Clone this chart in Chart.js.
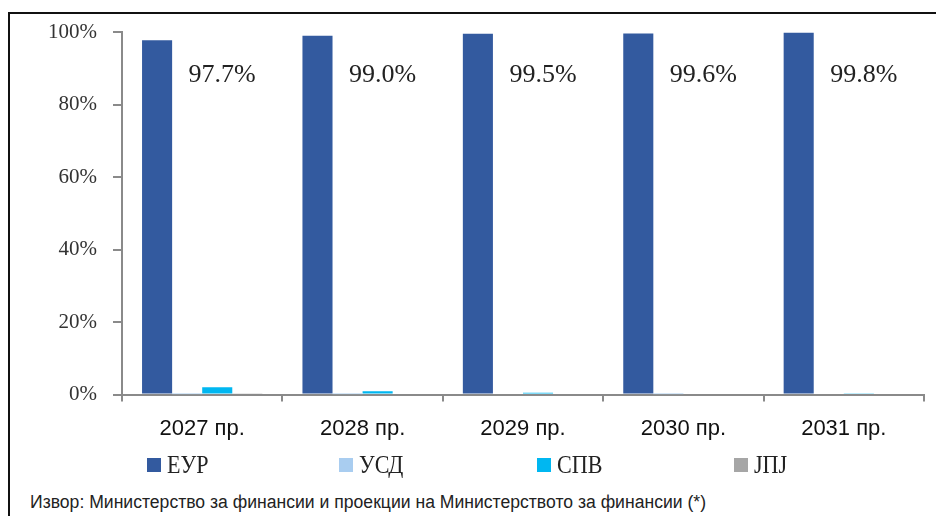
<!DOCTYPE html>
<html>
<head>
<meta charset="utf-8">
<script src="https://cdn.jsdelivr.net/npm/chart.js@4.4.1/dist/chart.umd.min.js"></script>
<style>
  html, body { margin: 0; padding: 0; background: #fff; }
  body { width: 936px; height: 516px; position: relative; overflow: hidden; }
  #frame { position: absolute; left: 8px; top: 12px; width: 960px; height: 540px;
           border-top: 2px solid #111; border-left: 2px solid #111; }
  #wrap { position: absolute; left: 0; top: 0; width: 936px; height: 459px; }
  #legend { position: absolute; top: 452px; left: 0; width: 936px; height: 26px; }
  .item { position: absolute; top: 0; height: 26px; display: flex; align-items: center; }
  .box { width: 14px; height: 14px; margin-right: 6px; }
  .lbl { font-family: "Times New Roman", "Liberation Serif", serif; font-size: 26px; color: #222;
         transform: scaleX(0.85); transform-origin: left center; white-space: nowrap; }
  #source { position: absolute; left: 30px; top: 492px; font-family: "Liberation Sans", Arial, sans-serif;
            font-size: 18px; color: #222; white-space: nowrap; transform-origin: left center; }
</style>
</head>
<body>
<div id="frame"></div>
<div id="wrap"><canvas id="chart" width="936" height="459"></canvas></div>
<div id="legend"></div>
<div id="source">Извор: Министерство за финансии и проекции на Министерството за финансии (*)</div>
<script>
const years = ['2027 пр.', '2028 пр.', '2029 пр.', '2030 пр.', '2031 пр.'];
const eur = [97.7, 99.0, 99.5, 99.6, 99.8];
const usd = [0.1, 0.1, 0.0, 0.1, 0.0];
const spv = [2.0, 0.9, 0.5, 0.3, 0.2];
const jpy = [0.2, 0.0, 0.0, 0.0, 0.0];
const seriesNames = ['ЕУР', 'УСД', 'СПВ', 'ЈПЈ'];
const seriesColors = ['#335a9f', '#a9cdf0', '#00b7f1', '#a6a6a6'];
const legendX = [147, 339, 537, 734];
const serif = '"Times New Roman", "Liberation Serif", serif';

const ctx = document.getElementById('chart').getContext('2d');

// labels with the EUR share, to the right of each EUR bar
const eurLabels = {
  id: 'eurLabels',
  afterDatasetsDraw(chart) {
    const x = chart.scales.x, y = chart.scales.y;
    const c = chart.ctx;
    c.save();
    c.font = '26px ' + serif;
    c.fillStyle = '#222';
    c.textAlign = 'center';
    c.textBaseline = 'middle';
    eur.forEach((v, i) => {
      c.fillText(v.toFixed(1) + '%', x.getPixelForValue(i) + 20, y.getPixelForValue(88));
    });
    c.restore();
  }
};

const data = [eur, usd, spv, jpy];

new Chart(ctx, {
  type: 'bar',
  data: {
    labels: years,
    datasets: seriesNames.map((name, i) => ({
      label: name,
      data: data[i],
      backgroundColor: seriesColors[i],
      categoryPercentage: 0.75,
      barPercentage: 1.0
    }))
  },
  options: {
    responsive: false,
    animation: false,
    layout: { padding: { top: 32, right: 12, bottom: 3, left: 0 } },
    plugins: {
      legend: { display: false },
      tooltip: { enabled: false }
    },
    scales: {
      x: {
        grid: { display: true, drawOnChartArea: false, offset: true, color: '#8a8a8a', lineWidth: 2, tickLength: 7 },
        border: { color: '#8a8a8a', width: 2 },
        ticks: { color: '#111', padding: 14, font: { family: '"Liberation Sans", Arial, sans-serif', size: 22 } }
      },
      y: {
        min: 0,
        max: 100,
        afterFit(scale) { scale.width = 122; },
        grid: { drawOnChartArea: false, color: '#8a8a8a', lineWidth: 2, tickLength: 9 },
        border: { color: '#8a8a8a', width: 2 },
        ticks: {
          stepSize: 20,
          padding: 16,
          color: '#333',
          font: { family: serif, size: 21 },
          callback: v => v + '%'
        }
      }
    }
  },
  plugins: [eurLabels]
});

// legend
const legend = document.getElementById('legend');
seriesNames.forEach((name, i) => {
  const it = document.createElement('div');
  it.className = 'item';
  it.style.left = legendX[i] + 'px';
  it.innerHTML = `<div class="box" style="background:${seriesColors[i]}"></div><span class="lbl">${name}</span>`;
  legend.appendChild(it);
});

// squeeze the source line to the narrow width of the original
const src = document.getElementById('source');
const w = src.getBoundingClientRect().width;
src.style.transform = `scaleX(${676 / w})`;
</script>
</body>
</html>
